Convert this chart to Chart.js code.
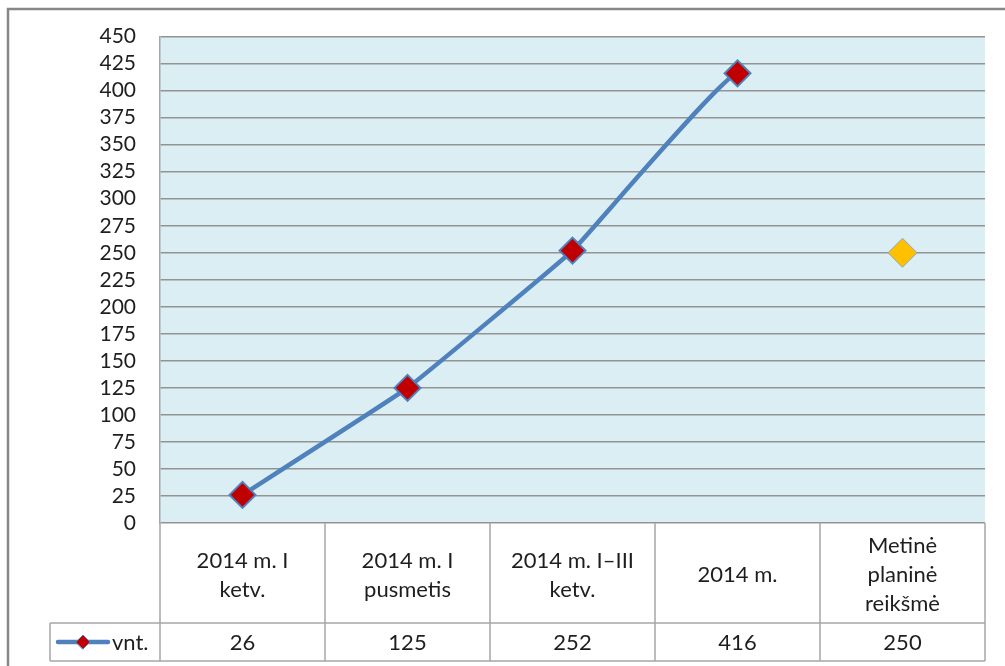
<!DOCTYPE html>
<html>
<head>
<meta charset="utf-8">
<script src="https://cdn.jsdelivr.net/npm/chart.js@4.4.1/dist/chart.umd.min.js"></script>
<style>
  html, body { margin: 0; padding: 0; background: #fff; }
</style>
</head>
<body>
<canvas id="chart" width="1005" height="666"></canvas>
<script>
// chart data
const categories = [
    ['2014 m. I', 'ketv.'],
    ['2014 m. I', 'pusmetis'],
    ['2014 m. I–III', 'ketv.'],
    ['2014 m.'],
    ['Metinė', 'planinė', 'reikšmė']
];
const values = [26, 125, 252, 416, 250];
const seriesName = 'vnt.';
const yMin = 0, yMax = 450, yStep = 25;

const FONT = 'Lato, "Open Sans", sans-serif';
const TEXT = '#1E1E1E';
const BLUE = '#4F81BD';
const TABLE_LINE = '#A6A6A6';

// draws the plot background, the data table under the axis and the frame
const dataTablePlugin = {
    id: 'dataTable',
    beforeDraw(chart) {
        const { ctx, chartArea: a } = chart;
        ctx.save();
        ctx.fillStyle = '#DBEEF3';
        ctx.fillRect(a.left, a.top, a.right - a.left, a.bottom - a.top);
        ctx.restore();
    },
    afterDraw(chart) {
        const { ctx, chartArea: a } = chart;
        const x = chart.scales.x;
        const labels = chart.data.labels;
        const data = chart.data.datasets[0].data;
        const n = labels.length;
        const step = x.getPixelForValue(1) - x.getPixelForValue(0);
        const labelTop = a.bottom;
        const valueTop = a.bottom + 100;
        const valueBot = a.bottom + 138;
        const legendLeft = 50;

        ctx.save();
        ctx.strokeStyle = TABLE_LINE;
        ctx.lineWidth = 1.5;
        ctx.beginPath();
        for (let i = 0; i <= n; i++) {
            const px = x.getPixelForValue(0) + (i - 0.5) * step;
            ctx.moveTo(px, labelTop);
            ctx.lineTo(px, valueBot);
        }
        ctx.moveTo(legendLeft, valueTop);
        ctx.lineTo(legendLeft, valueBot);
        ctx.moveTo(legendLeft, valueTop);
        ctx.lineTo(x.getPixelForValue(0) + (n - 0.5) * step, valueTop);
        ctx.moveTo(legendLeft, valueBot);
        ctx.lineTo(x.getPixelForValue(0) + (n - 0.5) * step, valueBot);
        ctx.stroke();

        // category names and values
        ctx.fillStyle = TEXT;
        ctx.font = '22px ' + FONT;
        ctx.textAlign = 'center';
        ctx.textBaseline = 'middle';
        const lineH = 29;
        labels.forEach((lab, i) => {
            const cx = x.getPixelForValue(i);
            const lines = Array.isArray(lab) ? lab : [lab];
            const mid = (labelTop + valueTop) / 2 + 2;
            lines.forEach((t, k) => {
                ctx.fillText(t, cx, mid + (k - (lines.length - 1) / 2) * lineH);
            });
            ctx.fillText(String(data[i]), cx, (valueTop + valueBot) / 2 + 1);
        });

        // legend key inside the table
        const ly = (valueTop + valueBot) / 2;
        ctx.strokeStyle = BLUE;
        ctx.lineWidth = 4.5;
        ctx.lineCap = 'round';
        ctx.beginPath();
        ctx.moveTo(58, ly);
        ctx.lineTo(108, ly);
        ctx.stroke();
        ctx.beginPath();
        ctx.moveTo(83 - 7, ly);
        ctx.lineTo(83, ly - 7);
        ctx.lineTo(83 + 7, ly);
        ctx.lineTo(83, ly + 7);
        ctx.closePath();
        ctx.fillStyle = '#C00000';
        ctx.fill();
        ctx.lineWidth = 1;
        ctx.stroke();
        ctx.fillStyle = TEXT;
        ctx.textAlign = 'left';
        ctx.fillText(chart.data.datasets[0].label, 112, ly + 1);

        // outer chart frame
        ctx.strokeStyle = '#878787';
        ctx.lineWidth = 2.5;
        ctx.lineCap = 'butt';
        ctx.beginPath();
        ctx.moveTo(1005, 9);
        ctx.lineTo(8, 9);
        ctx.lineTo(8, 666);
        ctx.stroke();
        ctx.restore();
    }
};

new Chart(document.getElementById('chart'), {
    type: 'line',
    data: {
        labels: categories,
        datasets: [{
            label: seriesName,
            data: values,
            borderColor: BLUE,
            borderWidth: 4.5,
            tension: 0.08,
            pointStyle: 'rectRot',
            pointRadius: [13, 13, 13, 13, 14.5],
            pointHoverRadius: [13, 13, 13, 13, 14.5],
            pointBackgroundColor: ['#C00000', '#C00000', '#C00000', '#C00000', '#FFC000'],
            pointBorderColor: [BLUE, BLUE, BLUE, BLUE, '#86A8C8'],
            pointBorderWidth: [2, 2, 2, 2, 1],
            segment: {
                borderColor: (c) => c.p1DataIndex === values.length - 1 ? 'transparent' : BLUE
            },
            clip: false
        }]
    },
    options: {
        responsive: false,
        animation: false,
        layout: {
            padding: { left: 0, top: 36, right: 20, bottom: 0 }
        },
        plugins: {
            legend: { display: false },
            tooltip: { enabled: false }
        },
        scales: {
            x: {
                offset: true,
                ticks: { display: false },
                grid: { display: false },
                border: { display: false },
                afterFit: (s) => { s.height = 143; }
            },
            y: {
                min: yMin,
                max: yMax,
                ticks: {
                    stepSize: yStep,
                    autoSkip: false,
                    padding: 24,
                    color: TEXT,
                    font: { family: FONT, size: 21 }
                },
                grid: {
                    color: '#939393',
                    lineWidth: 1.5,
                    drawTicks: false
                },
                border: { color: '#A6A6A6', width: 1.5 },
                afterFit: (s) => { s.width = 160; }
            }
        }
    },
    plugins: [dataTablePlugin]
});
</script>
</body>
</html>
